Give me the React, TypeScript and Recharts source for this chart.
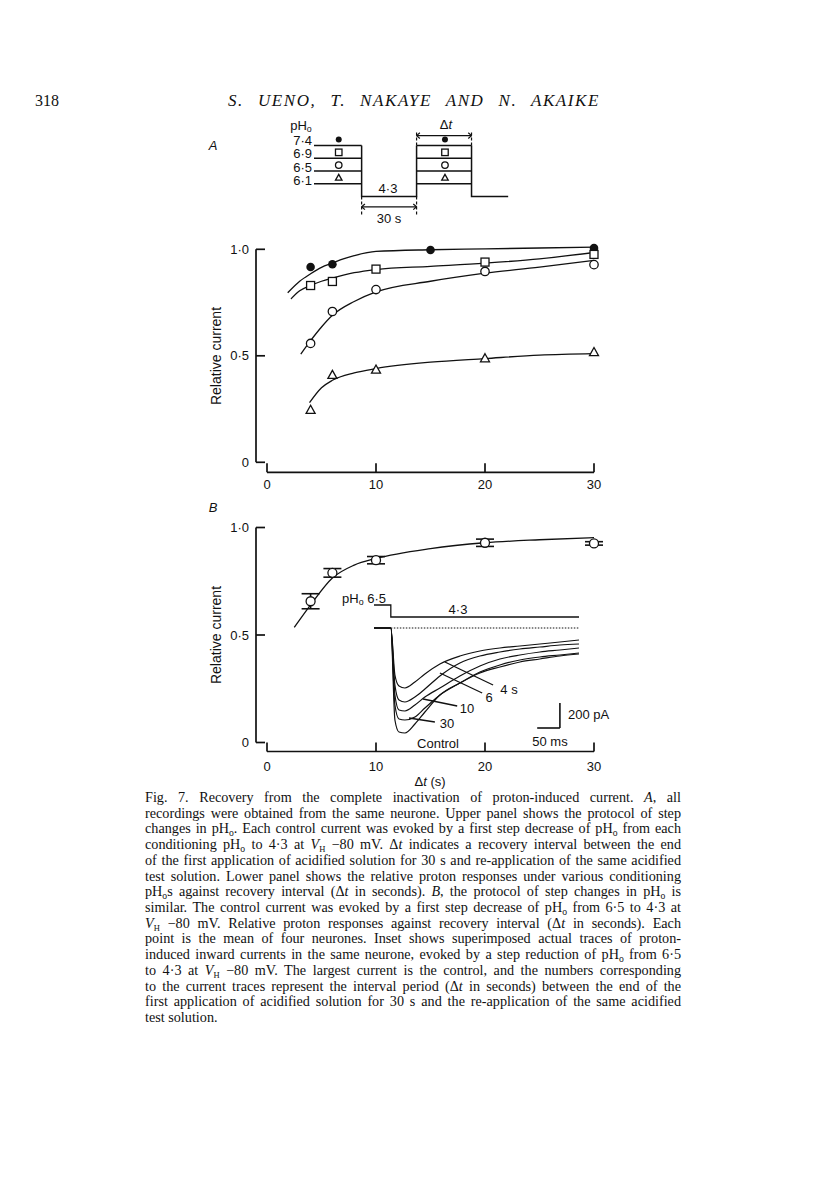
import React from 'react';
import { ComposedChart, Line, Scatter, XAxis, YAxis, ReferenceLine, ErrorBar } from 'recharts';

// ---- panel A, upper: step protocol (time in s; level 0 = pH 4·3, 1..4 = 6·1..7·4)
const protoLevels = [4, 3, 2, 1];
const protoLabels = ['7·4', '6·9', '6·5', '6·1'];
const protoMarks = ['filled', 'square', 'circle', 'triangle'];
const protoEdges = [0, 26, 56, 86, 106]; // start, acid, re-application, acid again, end

// ---- panel A, lower: relative current vs recovery interval Δt (s)
const dtA = [4, 6, 10, 20, 30];
const dt74 = [4, 6, 15, 30];
const rel74 = [0.917, 0.93, 0.997, 1.006];
const rel69 = [0.83, 0.849, 0.907, 0.94, 0.976];
const rel65 = [0.558, 0.708, 0.811, 0.896, 0.928];
const rel61 = [0.245, 0.409, 0.434, 0.487, 0.516];

// fitted curves
const fit74X = [1.9, 3, 4, 5, 6, 7, 8, 10, 15, 20, 30];
const fit74Y = [0.796, 0.85, 0.885, 0.915, 0.935, 0.955, 0.97, 0.99, 0.998, 1.002, 1.01];
const fit69X = [2.2, 3, 4, 5, 6, 8, 10, 15, 20, 25, 30];
const fit69Y = [0.767, 0.805, 0.83, 0.85, 0.865, 0.89, 0.905, 0.92, 0.935, 0.955, 0.985];
const fit65X = [3.1, 4, 5, 6, 8, 10, 15, 20, 25, 30];
const fit65Y = [0.508, 0.571, 0.635, 0.69, 0.755, 0.8, 0.85, 0.888, 0.916, 0.948];
const fit61X = [3.9, 5, 6, 8, 10, 15, 20, 25, 30];
const fit61Y = [0.28, 0.35, 0.385, 0.42, 0.44, 0.47, 0.487, 0.503, 0.51];

// ---- panel B: mean ± s.e.m. of four neurones
const dtB = [4, 6, 10, 20, 30];
const relB = [0.657, 0.789, 0.848, 0.929, 0.926];
const semB = [0.035, 0.02, 0.017, 0.017, 0.008];
const fitBX = [2.5, 4, 6, 8, 10, 15, 20, 25, 30];
const fitBY = [0.535, 0.64, 0.765, 0.825, 0.856, 0.902, 0.929, 0.943, 0.953];

const yTicks = [0, 0.5, 1];
const xTicks = [0, 10, 20, 30];

// ---- inset: current traces (ms, pA)
const traceT = [0, 37, 46, 55, 68, 90, 112, 145, 189, 233, 277, 321, 365, 409, 451];
const tr4 = [0, 0, -376, -464, -480, -432, -368, -288, -224, -184, -160, -144, -128, -112, -96];
const tr6 = [0, 0, -456, -576, -592, -552, -488, -384, -280, -224, -192, -168, -152, -136, -128];
const tr10 = [0, 0, -536, -656, -664, -616, -552, -480, -384, -304, -248, -216, -192, -176, -160];
const tr30 = [0, 0, -616, -728, -736, -712, -640, -536, -440, -352, -296, -256, -232, -216, -200];
const trCtl = [0, 0, -736, -832, -840, -768, -672, -536, -440, -360, -312, -272, -248, -224, -208];
const solT = [0, 37, 37, 451]; // pHo 6·5 -> 4·3 trace
const solV = [184, 184, 88, 88];
// label pointers: [t0, i0, t1, i1]
const pointers = [
  [156, -272, 262, -456],
  [145, -360, 238, -520],
  [108, -568, 183, -624],
  [77, -720, 134, -752],
];

const FONT = '"Liberation Sans", Arial, Helvetica, sans-serif';
const SERIF = '"Liberation Serif", "Times New Roman", serif';
const INK = '#111';

const pts = (xs: number[], ys: number[]) => xs.map((x, i) => ({ x, y: ys[i] }));

function mark(kind: string, s: number) {
  return (p: any) => {
    const { cx, cy } = p;
    if (kind === 'filled') return <circle cx={cx} cy={cy} r={s / 2} fill={INK} />;
    if (kind === 'circle')
      return <circle cx={cx} cy={cy} r={s / 2} fill="#fff" stroke={INK} strokeWidth={1.3} />;
    if (kind === 'square')
      return <rect x={cx - s / 2} y={cy - s / 2} width={s} height={s} fill="#fff" stroke={INK} strokeWidth={1.3} />;
    const h = s * 0.9;
    return (
      <path
        d={`M${cx},${cy - h * 0.6}L${cx + s / 2},${cy + h * 0.4}L${cx - s / 2},${cy + h * 0.4}Z`}
        fill="#fff"
        stroke={INK}
        strokeWidth={1.3}
      />
    );
  };
}

function Txt({ x, y, a = 'c', size = 13, italic = false, children }: any) {
  const tx = a === 'c' ? '-50%' : a === 'r' ? '-100%' : '0';
  return (
    <div
      style={{
        position: 'absolute',
        left: x,
        top: y,
        transform: `translate(${tx}, -50%)`,
        fontFamily: FONT,
        fontSize: size,
        fontStyle: italic ? 'italic' : 'normal',
        whiteSpace: 'nowrap',
        lineHeight: 1,
        color: INK,
      }}
    >
      {children}
    </div>
  );
}

const subF = { fontSize: '0.68em', lineHeight: 0, verticalAlign: '-0.3em' };
const o = <sub style={subF}>o</sub>;
const VH = (
  <>
    <i>V</i>
    <sub style={{ fontSize: '0.6em', lineHeight: 0, verticalAlign: '-0.3em' }}>H</sub>
  </>
);
const dt = (
  <>
    Δ<i>t</i>
  </>
);

const captionLines: React.ReactNode[] = [
  <>Fig. 7. Recovery from the complete inactivation of proton-induced current. <i>A</i>, all</>,
  <>recordings were obtained from the same neurone. Upper panel shows the protocol of step</>,
  <>changes in pH{o}. Each control current was evoked by a first step decrease of pH{o} from each</>,
  <>conditioning pH{o} to 4·3 at {VH} −80 mV. {dt} indicates a recovery interval between the end</>,
  <>of the first application of acidified solution for 30 s and re-application of the same acidified</>,
  <>test solution. Lower panel shows the relative proton responses under various conditioning</>,
  <>pH{o}s against recovery interval ({dt} in seconds). <i>B</i>, the protocol of step changes in pH{o} is</>,
  <>similar. The control current was evoked by a first step decrease of pH{o} from 6·5 to 4·3 at</>,
  <>{VH} −80 mV. Relative proton responses against recovery interval ({dt} in seconds). Each</>,
  <>point is the mean of four neurones. Inset shows superimposed actual traces of proton-</>,
  <>induced inward currents in the same neurone, evoked by a step reduction of pH{o} from 6·5</>,
  <>to 4·3 at {VH} −80 mV. The largest current is the control, and the numbers corresponding</>,
  <>to the current traces represent the interval period ({dt} in seconds) between the end of the</>,
  <>first application of acidified solution for 30 s and the re-application of the same acidified</>,
  <>test solution.</>,
];

const fmtY = (v: number) => (v === 0 ? '0' : v.toFixed(1).replace('.', '·'));
const tickStyle = { fill: INK, fontSize: 13, fontFamily: FONT };

function Protocol() {
  const e = protoEdges;
  const top = protoLevels[0];
  const outline = [
    { x: e[1], y: top },
    { x: e[1], y: 0 },
    { x: e[2], y: 0 },
    { x: e[2], y: top },
    { x: (e[2] + e[3]) / 2, y: null },
    { x: e[3], y: top },
    { x: e[3], y: 0 },
    { x: e[4], y: 0 },
  ];
  const stroke = { stroke: INK, strokeWidth: 1.5 };
  const guide = { stroke: INK, strokeWidth: 1.2, strokeDasharray: '3 2', ifOverflow: 'visible' as const };
  const arrow = (x0: number, x1: number, y: number) => [
    [x0, y, x1, y],
    [x0, y, x0 + 1.8, y + 0.22],
    [x0, y, x0 + 1.8, y - 0.22],
    [x1, y, x1 - 1.8, y + 0.22],
    [x1, y, x1 - 1.8, y - 0.22],
  ];
  const arrows = [...arrow(e[1], e[2], -0.8), ...arrow(e[2], e[3], 4.78)];
  return (
    <ComposedChart width={196} height={88} margin={{ top: 0, right: 0, bottom: 0, left: 0 }}>
      <XAxis type="number" dataKey="x" domain={[0, 107]} hide />
      <YAxis type="number" dataKey="y" domain={[-1.6, 5.3]} hide />
      {protoLevels.map((L) => (
        <Line
          key={'l' + L}
          data={[
            { x: e[0], y: L },
            { x: e[1], y: L },
            { x: (e[1] + e[2]) / 2, y: null },
            { x: e[2], y: L },
            { x: e[3], y: L },
          ]}
          dataKey="y"
          type="linear"
          dot={false}
          {...stroke}
          isAnimationActive={false}
        />
      ))}
      <Line data={outline} dataKey="y" type="linear" dot={false} {...stroke} isAnimationActive={false} />
      {protoLevels.map((L, i) => (
        <Scatter
          key={'m' + L}
          data={[
            { x: (e[0] + e[1]) / 2 + 0.5, y: L + 0.47 },
            { x: (e[2] + e[3]) / 2 + 0.5, y: L + 0.47 },
          ]}
          shape={mark(protoMarks[i], protoMarks[i] === 'filled' ? 6 : 6.5)}
          isAnimationActive={false}
        />
      ))}
      <ReferenceLine segment={[{ x: e[1], y: 0 }, { x: e[1], y: -1.45 }]} {...guide} />
      <ReferenceLine segment={[{ x: e[2], y: 0 }, { x: e[2], y: -1.45 }]} {...guide} />
      <ReferenceLine segment={[{ x: e[2], y: top }, { x: e[2], y: 5.1 }]} {...guide} />
      <ReferenceLine segment={[{ x: e[3], y: top }, { x: e[3], y: 5.1 }]} {...guide} />
      {arrows.map((s, k) => (
        <ReferenceLine
          key={'a' + k}
          segment={[{ x: s[0], y: s[1] }, { x: s[2], y: s[3] }]}
          stroke={INK}
          strokeWidth={1.2}
          ifOverflow="visible"
        />
      ))}
    </ComposedChart>
  );
}

function axes(yAxX: number, xAxY: number, tdx: number, tdy: number) {
  const st = { stroke: INK, strokeWidth: 1.7, ifOverflow: 'visible' as const };
  return [
    <ReferenceLine key="ya" segment={[{ x: yAxX, y: 0 }, { x: yAxX, y: 1 }]} {...st} />,
    ...yTicks.map((v) => (
      <ReferenceLine key={'yt' + v} segment={[{ x: yAxX, y: v }, { x: yAxX + tdx, y: v }]} {...st} />
    )),
    <ReferenceLine key="xa" segment={[{ x: 0, y: xAxY }, { x: 30, y: xAxY }]} {...st} />,
    ...xTicks.map((v) => (
      <ReferenceLine key={'xt' + v} segment={[{ x: v, y: xAxY }, { x: v, y: xAxY + tdy }]} {...st} />
    )),
  ];
}

const curve = { stroke: INK, strokeWidth: 1.3, dot: false, type: 'monotone' as const, isAnimationActive: false };

function PanelA() {
  return (
    <ComposedChart width={407} height={279.3} margin={{ top: 5, right: 20, bottom: 0, left: 0 }}>
      <XAxis
        type="number"
        dataKey="x"
        domain={[0, 30]}
        ticks={xTicks}
        interval={0}
        axisLine={false}
        tickLine={false}
        tickSize={0}
        tickMargin={17}
        height={40}
        tick={tickStyle}
      />
      <YAxis
        type="number"
        dataKey="y"
        domain={[0, 1.1]}
        ticks={yTicks}
        interval={0}
        axisLine={false}
        tickLine={false}
        tickSize={0}
        tickMargin={18}
        width={60}
        tick={tickStyle}
        tickFormatter={fmtY}
      />
      {axes(-11 / 10.9, -10 / 213, 9 / 10.9, 9 / 213)}
      <Line data={pts(fit74X, fit74Y)} dataKey="y" {...curve} />
      <Line data={pts(fit69X, fit69Y)} dataKey="y" {...curve} />
      <Line data={pts(fit65X, fit65Y)} dataKey="y" {...curve} />
      <Line data={pts(fit61X, fit61Y)} dataKey="y" {...curve} />
      <Scatter data={pts(dt74, rel74)} shape={mark('filled', 8.6)} isAnimationActive={false} />
      <Scatter data={pts(dtA, rel69)} shape={mark('square', 8)} isAnimationActive={false} />
      <Scatter data={pts(dtA, rel65)} shape={mark('circle', 8.4)} isAnimationActive={false} />
      <Scatter data={pts(dtA, rel61)} shape={mark('triangle', 9)} isAnimationActive={false} />
    </ComposedChart>
  );
}

function PanelB() {
  const rows = dtB.map((x, i) => ({ x, y: relB[i], err: semB[i] }));
  return (
    <ComposedChart width={407} height={281.5} margin={{ top: 5, right: 20, bottom: 0, left: 0 }}>
      <XAxis
        type="number"
        dataKey="x"
        domain={[0, 30]}
        ticks={xTicks}
        interval={0}
        axisLine={false}
        tickLine={false}
        tickSize={0}
        tickMargin={19}
        height={40}
        tick={tickStyle}
      />
      <YAxis
        type="number"
        dataKey="y"
        domain={[0, 1.1]}
        ticks={yTicks}
        interval={0}
        axisLine={false}
        tickLine={false}
        tickSize={0}
        tickMargin={18}
        width={60}
        tick={tickStyle}
        tickFormatter={fmtY}
      />
      {axes(-11 / 10.9, -9 / 215, 9 / 10.9, 9 / 215)}
      <Line data={pts(fitBX, fitBY)} dataKey="y" {...curve} />
      <Scatter data={rows} shape={mark('circle', 9)} isAnimationActive={false}>
        <ErrorBar dataKey="err" direction="y" width={9} stroke={INK} strokeWidth={1.6} />
      </Scatter>
    </ComposedChart>
  );
}

function Inset() {
  const traces = [tr4, tr6, tr10, tr30, trCtl];
  return (
    <ComposedChart width={205} height={135} margin={{ top: 0, right: 0, bottom: 0, left: 0 }}>
      <XAxis type="number" dataKey="x" domain={[0, 451]} hide />
      <YAxis type="number" dataKey="y" domain={[-880, 200]} hide />
      <Line data={pts(solT, solV)} dataKey="y" type="linear" dot={false} stroke={INK} strokeWidth={1.3} isAnimationActive={false} />
      <Line
        data={pts([37, 451], [0, 0])}
        dataKey="y"
        type="linear"
        dot={false}
        stroke={INK}
        strokeWidth={1.2}
        strokeDasharray="1.5 1.5"
        isAnimationActive={false}
      />
      {traces.map((tr, k) => (
        <Line
          key={'tr' + k}
          data={pts(traceT, tr)}
          dataKey="y"
          type="monotone"
          dot={false}
          stroke={INK}
          strokeWidth={1.2}
          isAnimationActive={false}
        />
      ))}
      {pointers.map((p, k) => (
        <ReferenceLine
          key={'p' + k}
          segment={[{ x: p[0], y: p[1] }, { x: p[2], y: p[3] }]}
          stroke={INK}
          strokeWidth={1.3}
          ifOverflow="visible"
        />
      ))}
      {/* scale bars: 50 ms, 200 pA */}
      <ReferenceLine segment={[{ x: 359, y: -800 }, { x: 409, y: -800 }]} stroke={INK} strokeWidth={1.6} ifOverflow="visible" />
      <ReferenceLine segment={[{ x: 409, y: -800 }, { x: 409, y: -600 }]} stroke={INK} strokeWidth={1.6} ifOverflow="visible" />
    </ComposedChart>
  );
}

export default function App() {
  return (
    <div style={{ position: 'absolute', left: 0, top: 0, width: 816, height: 1183, background: '#fff', color: INK }}>
      {/* running head */}
      <div style={{ position: 'absolute', left: 35, top: 92, fontFamily: SERIF, fontSize: 16, lineHeight: '18px' }}>318</div>
      <div
        style={{
          position: 'absolute',
          left: 228,
          top: 91,
          width: 372,
          fontFamily: SERIF,
          fontStyle: 'italic',
          fontSize: 17,
          lineHeight: '19px',
          textAlign: 'justify',
          textAlignLast: 'justify',
          letterSpacing: 1.6,
        }}
      >
        S. UENO, T. NAKAYE AND N. AKAIKE
      </div>

      {/* panel A protocol */}
      <Txt x={213} y={145} italic>A</Txt>
      <Txt x={301} y={125}>
        pH<sub style={subF}>o</sub>
      </Txt>
      <Txt x={446} y={124}>
        Δ<i>t</i>
      </Txt>
      {protoLabels.map((l, i) => (
        <Txt key={l} x={312} y={140 + i * 13.3} a="r">
          {l}
        </Txt>
      ))}
      <Txt x={388} y={188}>4·3</Txt>
      <Txt x={389} y={218}>30 s</Txt>
      <div style={{ position: 'absolute', left: 314, top: 129.4 }}>
        <Protocol />
      </div>

      {/* panel A recovery */}
      <div style={{ position: 'absolute', left: 207, top: 222.7 }}>
        <PanelA />
      </div>
      <div
        style={{
          position: 'absolute',
          left: 216,
          top: 356,
          transform: 'translate(-50%, -50%) rotate(-90deg)',
          fontFamily: FONT,
          fontSize: 14,
          whiteSpace: 'nowrap',
          lineHeight: 1,
        }}
      >
        Relative current
      </div>

      {/* panel B */}
      <Txt x={213} y={507} italic>B</Txt>
      <div style={{ position: 'absolute', left: 207, top: 500.5 }}>
        <PanelB />
      </div>
      <div
        style={{
          position: 'absolute',
          left: 216,
          top: 635,
          transform: 'translate(-50%, -50%) rotate(-90deg)',
          fontFamily: FONT,
          fontSize: 14,
          whiteSpace: 'nowrap',
          lineHeight: 1,
        }}
      >
        Relative current
      </div>
      <Txt x={430} y={781}>
        Δ<i>t</i> (s)
      </Txt>

      {/* inset */}
      <div style={{ position: 'absolute', left: 374, top: 603 }}>
        <Inset />
      </div>
      <Txt x={342} y={598} a="l">
        pH<sub style={subF}>o</sub> 6·5
      </Txt>
      <Txt x={458} y={609}>4·3</Txt>
      <Txt x={509} y={689}>4 s</Txt>
      <Txt x={489} y={697}>6</Txt>
      <Txt x={467} y={708}>10</Txt>
      <Txt x={447} y={723}>30</Txt>
      <Txt x={438} y={743}>Control</Txt>
      <Txt x={568} y={714} a="l">200 pA</Txt>
      <Txt x={550} y={741}>50 ms</Txt>

      {/* caption */}
      {captionLines.map((line, i) => (
        <div
          key={i}
          style={{
            position: 'absolute',
            left: 145,
            top: 789 + i * 15.72,
            width: 536,
            height: 16,
            lineHeight: '16px',
            fontFamily: SERIF,
            fontSize: 14.2,
            textAlign: 'justify',
            textAlignLast: i === captionLines.length - 1 ? 'left' : 'justify',
            color: INK,
          }}
        >
          {line}
        </div>
      ))}
    </div>
  );
}
